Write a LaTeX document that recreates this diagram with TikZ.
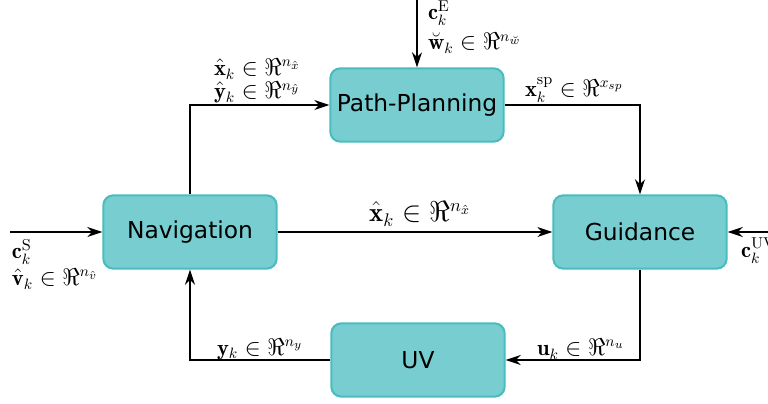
\documentclass[tikz,border=0pt]{standalone}
\usepackage{amsmath,amssymb}
\usepackage{fontspec}
\usepackage{xcolor}
\usetikzlibrary{arrows.meta,positioning,calc}
\newfontfamily\blockfont{DejaVu Sans}
\definecolor{blockfill}{RGB}{120,205,208}
\definecolor{blockline}{RGB}{72,188,190}

\begin{document}
\begin{tikzpicture}[>={Stealth[length=9pt,width=6pt]},x=0.6pt,y=-0.6pt,
  blk/.style={rectangle,rounded corners=6pt,draw=blockline,line width=1.2pt,fill=blockfill,minimum width=104pt,minimum height=44pt,inner sep=0pt,font=\blockfont\fontsize{14}{16}\selectfont},
  sig/.style={->,line width=1.2pt},
  lb/.style={inner sep=1pt,align=left,font=\fontsize{13.5}{14}\selectfont}]
\useasboundingbox (0,0) rectangle (768,403);
\node[blk] (nav) at (190,232) {Navigation};
\node[blk] (pp) at (417,105) {Path-Planning};
\node[blk] (gd) at (640,232) {Guidance};
\node[blk] (uv) at (418,360) {UV};
\coordinate (inE) at (417,0);
\coordinate (inS) at (10,232);
\coordinate (inUV) at (768,232);
% signal lines
\draw[sig] (nav.north) |- (pp.west);
\draw[sig] (pp.east) -| (gd.north);
\draw[sig] (inE) -- (pp.north);
\draw[sig] (nav.east) -- (gd.west);
\draw[sig] (inS) -- (nav.west);
\draw[sig] (inUV) -- (gd.east);
\draw[sig] (gd.south) |- (uv.east);
\draw[sig] (uv.west) -| (nav.south);
% labels
\node[lb,anchor=west] (lxy) at (212,81) {$\hat{\mathbf{x}}_k\in\Re^{n_{\hat{x}}}$\\$\hat{\mathbf{y}}_k\in\Re^{n_{\hat{y}}}$};
\node[lb,anchor=west] (lsp) at (523,90) {$\mathbf{x}_k^{\mathrm{sp}}\in\Re^{x_{sp}}$};
\node[lb,anchor=west] (lE) at (426,27) {$\mathbf{c}_k^{\mathrm{E}}$\\[4pt]$\breve{\mathbf{w}}_k\in\Re^{n_{\breve{w}}}$};
\node[lb,anchor=south,font=\fontsize{16}{18}\selectfont] (lx) at (420,228) {$\hat{\mathbf{x}}_k\in\Re^{n_{\hat{x}}}$};
\node[lb,anchor=north west] (lS) at (10,237) {$\mathbf{c}_k^{\mathrm{S}}$\\[2pt]$\hat{\mathbf{v}}_k\in\Re^{n_{\hat{v}}}$};
\node[lb,anchor=north west] (lUV) at (739,236) {$\mathbf{c}_k^{\mathrm{UV}}$};
\node[lb,anchor=west] (lu) at (535,349) {$\mathbf{u}_k\in\Re^{n_u}$};
\node[lb,anchor=west] (ly) at (215,349) {$\mathbf{y}_k\in\Re^{n_y}$};
\end{tikzpicture}
\end{document}
